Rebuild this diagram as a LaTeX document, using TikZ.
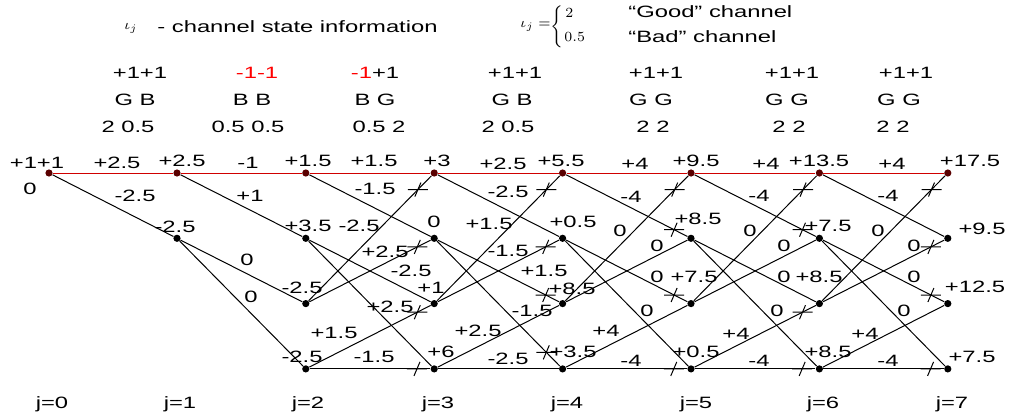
\documentclass[tikz,border=0pt]{standalone}
\usepackage{fontspec}
\usepackage{amsmath}
\setmainfont{Liberation Sans}
\newfontfamily\widefont{Liberation Sans}[FakeStretch=1.45]
\usetikzlibrary{positioning}
\definecolor{pathred}{HTML}{D00000}
\definecolor{dotred}{HTML}{5A0000}

\begin{document}
\begin{tikzpicture}[x=0.5pt, y=-0.5pt,
  trnode/.style={circle, fill=black, inner sep=0pt, minimum size=3.6pt},
  topnode/.style={trnode, fill=dotred},
  lbl/.style={font=\widefont\fontsize{8.2}{9.8}\selectfont, inner sep=0pt},
  mathlbl/.style={font=\fontsize{7.5}{9}\selectfont, inner sep=0pt},
  branch/.style={line width=0.5pt},
  survivor/.style={branch, draw=pathred}]
  \useasboundingbox (0,0) rectangle (1011,417);

  % header
  \node[mathlbl] (iota) at (131,28) {$\iota_j$};
  \node[lbl, anchor=west] (csi) at (157,27) {- channel state information};
  \node[mathlbl, anchor=east] (ldef) at (551,26) {$\iota_j=$};
  \node[mathlbl, font=\fontsize{7}{7.5}\selectfont] (brace) at (557,27) {$\Bigg\{$};
  \node[mathlbl, anchor=west] (good val) at (565,13) {$2$};
  \node[mathlbl, anchor=west] (bad val) at (564,37) {$0.5$};
  \node[lbl, anchor=west] (good) at (628,12) {“Good” channel};
  \node[lbl, anchor=west] (bad) at (628,37) {“Bad” channel};

  % received symbols, channel state, weights
  \foreach \x/\y/\t [count=\n] in {
      140/73/+1+1, 135/100/G B, 128/127/2 0.5,
      257/73/{\textcolor{red}{-1-1}}, 252/100/B B, 248/127/0.5 0.5,
      375/73/{\textcolor{red}{-1}+1}, 375/100/B G, 379/127/0.5 2,
      515/73/+1+1, 512/100/G B, 508/127/2 0.5,
      656/73/+1+1, 651/100/G G, 653/127/2 2,
      792/73/+1+1, 787/100/G G, 789/127/2 2,
      906/73/+1+1, 899/100/G G, 893/127/2 2}
    \node[lbl] (hdr\n) at (\x,\y) {\t};

  % trellis states
  \node[topnode] (n00) at (49,173) {};
  \foreach \k/\s in {0/topnode, 1/trnode}
    \node[\s] (n1\k) at (177,{173+65.3*\k}) {};
  \foreach \j in {2,...,7}
    \foreach \k/\s in {0/topnode, 1/trnode, 2/trnode, 3/trnode}
      \node[\s] (n\j\k) at ({49+128.4*\j},{173+65.3*\k}) {};

  % branches
  \draw[branch] (n00) -- (n11);
  \draw[branch] (n10) -- (n21);
  \draw[branch] (n11) -- (n22);
  \draw[branch] (n11) -- (n23);
  \foreach \j [evaluate=\j as \i using int(\j+1)] in {2,...,6} {
    \draw[branch] (n\j0) -- (n\i1);
    \draw[branch] (n\j1) -- (n\i2);
    \draw[branch] (n\j1) -- (n\i3);
    \draw[branch] (n\j2) -- (n\i0);
    \draw[branch] (n\j2) -- (n\i1);
    \draw[branch] (n\j3) -- (n\i2);
    \draw[branch] (n\j3) -- (n\i3);
  }
  \foreach \j [evaluate=\j as \i using int(\j+1)] in {0,...,6}
    \draw[survivor] (n\j0) -- (n\i0);

  % discarded branches
  \foreach \i/\a/\b [count=\n, evaluate=\i as \h using int(\i-1)] in {
      3/2/0, 3/2/1, 3/3/2, 3/3/3,
      4/2/0, 4/2/1, 4/1/2, 4/1/3,
      5/2/0, 5/0/1, 5/1/2, 5/3/3,
      6/2/0, 6/0/1, 6/3/2, 6/3/3,
      7/2/0, 7/2/1, 7/1/2, 7/3/3} {
    \path (n\h\a) -- coordinate[pos=0.89] (cut\n) (n\i\b);
    \draw[branch] ([xshift=-5pt]cut\n) -- ([xshift=5pt]cut\n)
      ([shift={(-1.5pt,-3.5pt)}]cut\n) -- ([shift={(1.5pt,3.5pt)}]cut\n);
  }

  % path metrics and branch metrics
  \foreach \x/\y/\t [count=\n] in {
      37/163/+1+1, 117/163/+2.5, 182/161/+2.5, 248/163/-1, 308/161/+1.5,
      374/161/+1.5, 437/161/+3, 503/164/+2.5, 561/161/+5.5, 635/164/+4,
      696/161/+9.5, 766/164/+4, 819/161/+13.5, 892/164/+4, 970/161/+17.5,
      30/189/0, 135/196/-2.5, 250/196/+1, 375/189/-1.5, 508/192/-2.5,
      631/197/-4, 759/196/-4, 888/196/-4,
      175/227/-2.5, 308/226/+3.5, 359/226/-2.5, 434/222/0, 489/224/+1.5,
      573/222/+0.5, 620/231/0, 698/219/+8.5, 750/231/0, 828/226/+7.5,
      878/231/0, 982/229/+9.5,
      247/260/0, 385/252/+2.5, 508/251/-1.5, 657/246/0, 784/246/0, 914/246/0,
      411/271/-2.5, 544/271/+1.5, 657/277/0, 694/277/+7.5, 784/277/0,
      819/277/+8.5, 914/277/0,
      302/288/-2.5, 431/288/+1, 572/289/+8.5, 975/287/+12.5, 251/297/0,
      390/307/+2.5, 532/311/-1.5, 647/311/0, 777/311/0, 904/311/0,
      334/333/+1.5, 478/331/+2.5, 606/331/+4, 736/334/+4, 865/334/+4,
      302/357/-2.5, 374/357/-1.5, 441/352/+6, 508/359/-2.5, 573/352/+3.5,
      631/361/-4, 696/352/+0.5, 759/361/-4, 828/352/+8.5, 888/361/-4,
      972/357/+7.5}
    \node[lbl] (met\n) at (\x,\y) {\t};

  % time indices
  \foreach \x/\t [count=\n] in {52/0, 180/1, 308/2, 438/3, 567/4, 696/5, 823/6, 952/7}
    \node[lbl] (time\n) at (\x,404) {j=\t};
\end{tikzpicture}
\end{document}
